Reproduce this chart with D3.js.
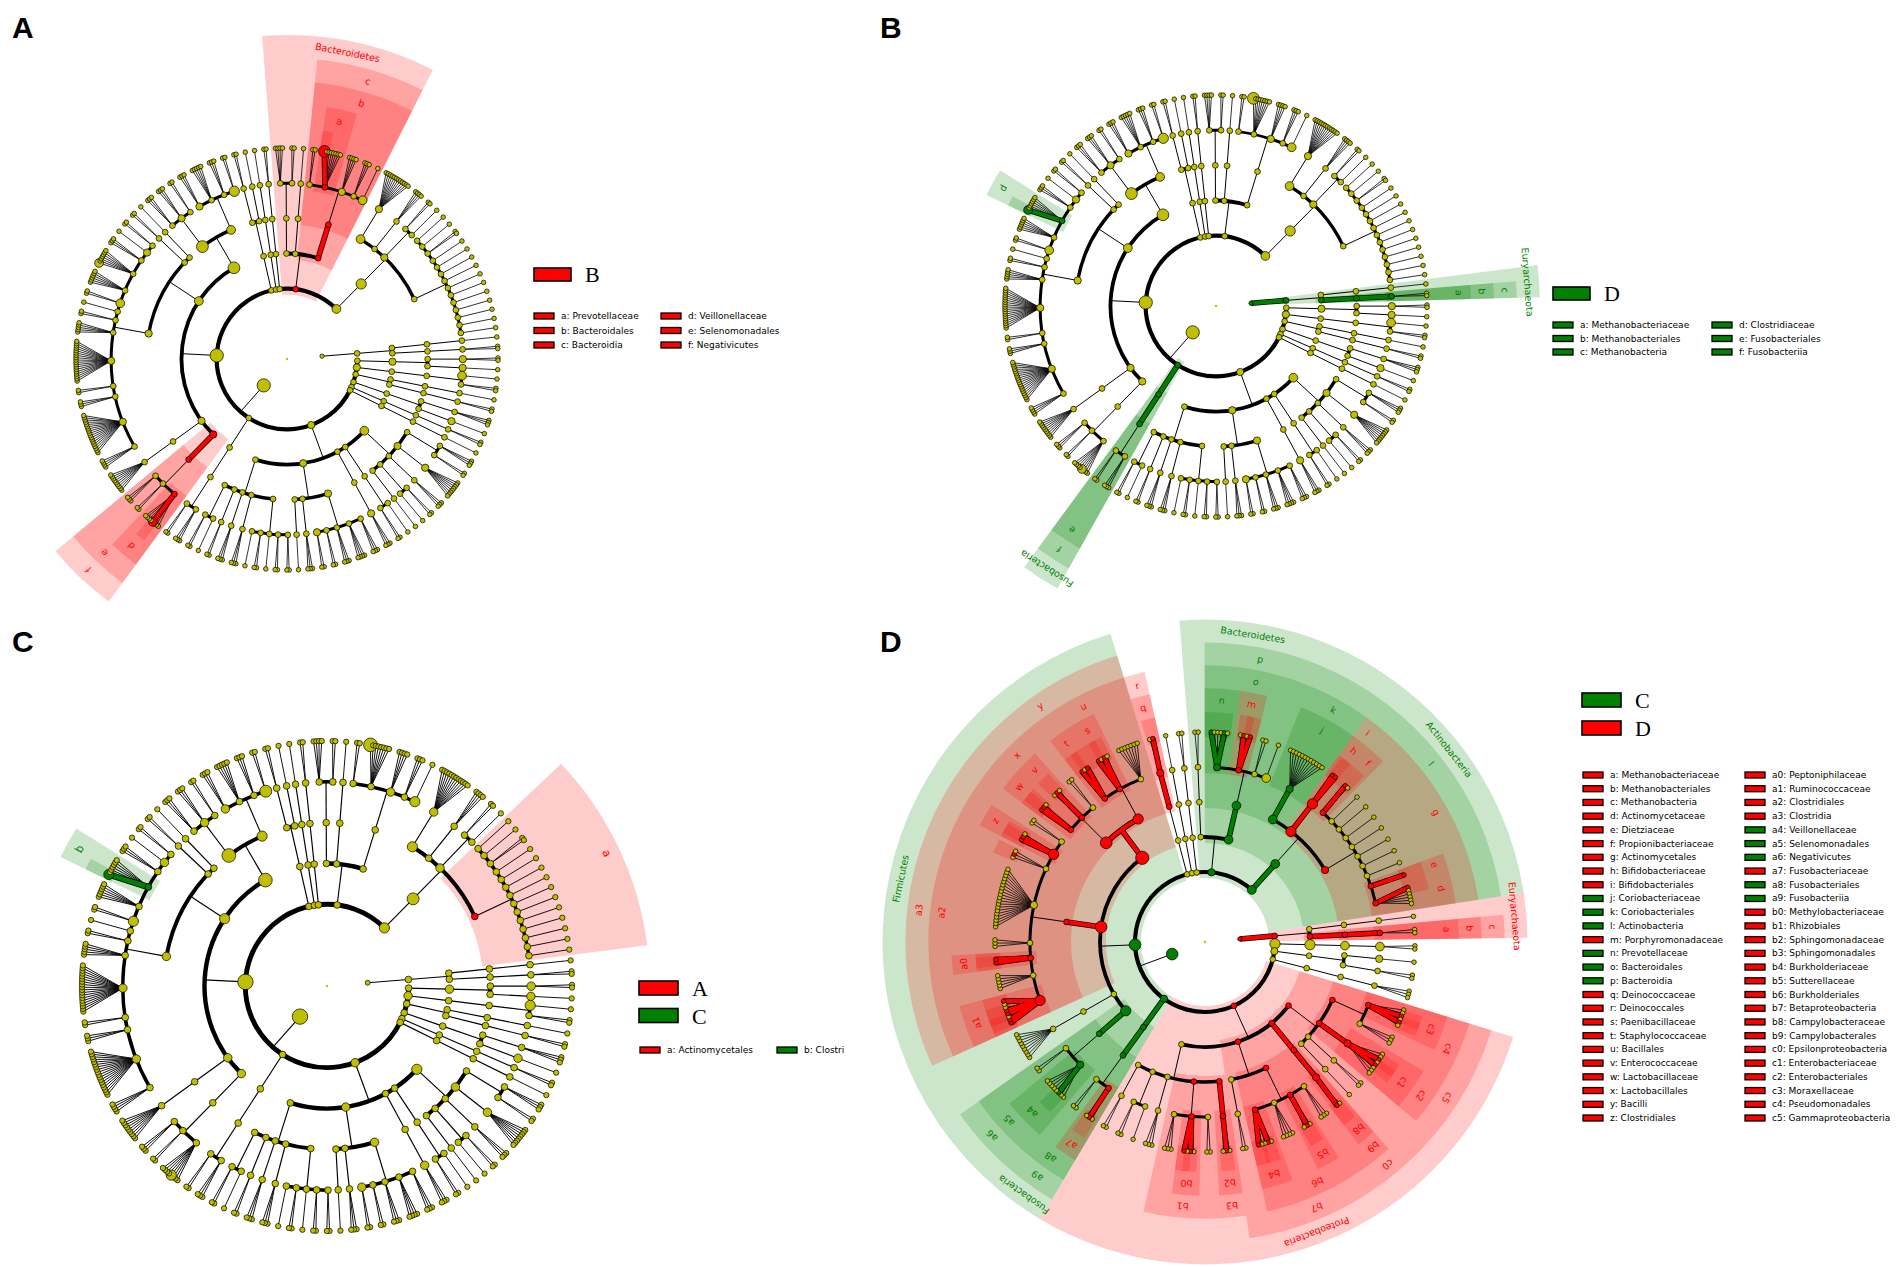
<!DOCTYPE html>
<html>
<head>
<meta charset="utf-8">
<script src="https://cdn.jsdelivr.net/npm/d3@7"></script>
<style>
  body { margin: 0; background: #fff; }
  svg { display: block; }
</style>
</head>
<body>
<svg id="fig" width="1904" height="1267"></svg>
<script>
// Clade strings: "(" ... ")" = clade, "o" = terminal taxon, "x" = significant genus,
// digit after a clade = node size class, {Name} = taxon name used by the highlights.

// ---- tree shared by panels A, B, C ----
const abcArchaea = "( ( (((o))) (((o o){Methanobacteriaceae}){Methanobacteriales}){Methanobacteria} ){Euryarchaeota} )1{Archaea}";
const abcProteobacteria = [
  "( ( (o o o)2 (o o) ) ( (o o o o o o o o)3 )3 ( (o o o) ) ( (o o)2 (o) ) ( (o) ) )4",
  "( ( (o)2 (o o) ) )",
  "( ( (o o o)3 ) )",
  "( ( (o o o) (o o o o)2 (o o o) (o o) (o o)3 )3 ( (o o o) ) ( (o) ) )3",
  "( ( (o o) (o o) (o) (o o)2 (o) ) ( (o o o) ) ( (o o o)2 ) ( (o o) ) ( (o) (o o) ) )2"
];
const abcFirmicutes = [
  "( ( (o o o o4{Veillonella} o o o o){Veillonellaceae} (o o)2 (o o o) ){Selenomonadales} )3{Negativicutes}",
  "( ( (o o o o o o o o o)2 ) )3",
  "( ( (o o o o)2 (o o o o o o o o o o o o o o o o o o)3 (o o o) (o o) (o o o o o o o o o o o o o o o o o o)3 (o o o o o) (o o)2 (o) (o o)4 (o o o o o o)2 (o4{Clostridium} o o o o o o){Clostridiaceae} (o o o) (o)3 (o o) )3 ( (o o)2 ) ( (o) ) )4",
  "( ( (o o o) (o o o)3 (o o) )6 ( (o o o)3 (o o o o o)2 (o o o) (o o)5 )4 )6"
];
const abcPhyla = [
  "( ( ( (o o)3 )2 ( (o)3 ) )3 )2",
  "( ( ( (o)4 (o o) ) ) )3",
  "( ( ( (o)2 ) ) ( ( (o o)2 ) ) )2",
  "( ( ( (o o o) ) ( (o)3 ) ) )",
  "( ( ( (o o) ) ) )",
  "( ( ( (o)2 ) ) )",
  "(" + abcProteobacteria.join(" ") + ")3",
  "( ( ( (o o o)2 (o o) ){Fusobacteriales} ){Fusobacteriia} )2{Fusobacteria}",
  "(" + abcFirmicutes.join(" ") + ")7",
  "( ( ( (o o) ) ( (o) ) ) )2",
  "( ( ( (o) ) ) )",
  "( ( ( (o o)2 ) ) )",
  "( ( ( (o o o o) (o o) ) )2 ( ( (o) ) ) ( ( (o o)2 (o6{Prevotella} o o o o o o o){Prevotellaceae} (o o o o)3 (o o o) (o)4 ){Bacteroidales} ){Bacteroidia} )2{Bacteroidetes}",
  "( ( ( (o o o o o o o o o o o o)3 )4 ( (o o o o)2 ) ( (o o) (o) )3 ( (o)(o)(o o)(o)(o)(o)(o)(o)(o)(o)(o)(o)(o)(o) ){Actinomycetales} )5 )4"
];

// ---- tree of panel D ----
const dArchaea = "( ( (((o))) (((o o){Methanobacteriaceae}){Methanobacteriales}){Methanobacteria} ){Euryarchaeota} )1{Archaea}";
const dProteobacteria = [
  "( ( (o o x o x o){Moraxellaceae} (o o o)2 ){Pseudomonadales} ( (o o x o x o o o)3{Enterobacteriaceae} ){Enterobacteriales} ( (o o) ) ( (o) ) ){Gammaproteobacteria}",
  "( ( (o x)3{Campylobacteraceae} ){Campylobacterales} ){Epsilonproteobacteria}",
  "( ( (o o o) (o x o){Sutterellaceae} (o o o o)2 (o x o o x){Burkholderiaceae} ){Burkholderiales} ( (o o) ) ){Betaproteobacteria}",
  "( ( (o x o){Sphingomonadaceae} ){Sphingomonadales} ( (o o) (o x o x){Methylobacteriaceae} (o o o) ){Rhizobiales} ( (o o o) ) ( (o) (o o) ) ( (o o) ) )"
];
const dFirmicutes = [
  "( ( (o o x o o o o o)3{Veillonellaceae} (o o) ){Selenomonadales} )5{Negativicutes}",
  "( ( (o o o o o o o o o)2 ) )2",
  "( ( (x x o x x o o x)5{Ruminococcaceae} (o o o o o) (x x)2{Peptoniphilaceae} (o o o) (o o o o o o o o o o o o o o o o o o o)3 (o x o) (x x o)5{Clostridiales_f} (o o) ){Clostridiales} )6{Clostridia}",
  "( ( (x x o){Lactobacillaceae} (o x o){Enterococcaceae} (o o) )6{Lactobacillales} ( (x o x){Staphylococcaceae} (x o x o){Paenibacillaceae} (o o o o o o o) )5{Bacillales} )7{Bacilli}"
];
const dPhyla = [
  "( ( ( (o o)4 )4 )5 )5",
  "( ( ( (o)3 ) ( (o o) ) ) )3",
  "( ( ( (o o o) ) ) )2",
  "(" + dProteobacteria.join(" ") + ")2{Proteobacteria}",
  "( ( ( (o x o){Fusobacteriaceae} (o o) ){Fusobacteriales} ){Fusobacteriia} )3{Fusobacteria}",
  "(" + dFirmicutes.join(" ") + ")6{Firmicutes}",
  "( ( ( (o x)3{Deinococcaceae} ){Deinococcales} ) )2",
  "( ( ( (o) ) ) )",
  "( ( ( (o o) ) ) )",
  "( ( ( (o o) ) ) ( ( (x o o o x o)3{Prevotellaceae} (o x o x){Porphyromonadaceae} (o o) (o)4 )4{Bacteroidales} )4{Bacteroidia} )3{Bacteroidetes}",
  "( ( ( (o o o o o o o o o o o o)3{Coriobacteriaceae} )4{Coriobacteriales} ( (x x)5{Bifidobacteriaceae} )5{Bifidobacteriales} ( (x o){Propionibacteriaceae} (o)(o)(o)(o)(o)(o)(o) (x){Dietziaceae} (x o o o o o){Actinomycetaceae} )3{Actinomycetales} )4{Actinobacteria_c} )4{Actinobacteria}"
];

// ---- significant clades per panel: [taxon, group, letter, legend text] ----
const highlightsA = [
  ["Prevotellaceae", "B", "a"], ["Bacteroidales", "B", "b"], ["Bacteroidia", "B", "c"],
  ["Veillonellaceae", "B", "d"], ["Selenomonadales", "B", "e"], ["Negativicutes", "B", "f"],
  ["Bacteroidetes", "B", ""], ["Prevotella", "B", ""], ["Veillonella", "B", ""]
];
const highlightsB = [
  ["Methanobacteriaceae", "D", "a"], ["Methanobacteriales", "D", "b"], ["Methanobacteria", "D", "c"],
  ["Clostridiaceae", "D", "d"], ["Fusobacteriales", "D", "e"], ["Fusobacteriia", "D", "f"],
  ["Euryarchaeota", "D", ""], ["Archaea", "D", ""], ["Fusobacteria", "D", ""], ["Clostridium", "D", ""]
];
const highlightsC = [
  ["Actinomycetales", "A", "a"], ["Clostridiaceae", "C", "b", "Clostri"], ["Clostridium", "C", ""]
];
const highlightsD = [
  ["Methanobacteriaceae", "D", "a"], ["Methanobacteriales", "D", "b"], ["Methanobacteria", "D", "c"],
  ["Actinomycetaceae", "D", "d"], ["Dietziaceae", "D", "e"], ["Propionibacteriaceae", "D", "f"],
  ["Actinomycetales", "D", "g"], ["Bifidobacteriaceae", "D", "h"], ["Bifidobacteriales", "D", "i"],
  ["Coriobacteriaceae", "C", "j"], ["Coriobacteriales", "C", "k"], ["Actinobacteria_c", "C", "l"],
  ["Porphyromonadaceae", "D", "m"], ["Prevotellaceae", "C", "n"], ["Bacteroidales", "C", "o"],
  ["Bacteroidia", "C", "p"], ["Deinococcaceae", "D", "q"], ["Deinococcales", "D", "r"],
  ["Paenibacillaceae", "D", "s"], ["Staphylococcaceae", "D", "t"], ["Bacillales", "D", "u"],
  ["Enterococcaceae", "D", "v"], ["Lactobacillaceae", "D", "w"], ["Lactobacillales", "D", "x"],
  ["Bacilli", "D", "y"], ["Clostridiales_f", "D", "z"],
  ["Peptoniphilaceae", "D", "a0"], ["Ruminococcaceae", "D", "a1"], ["Clostridiales", "D", "a2"],
  ["Clostridia", "D", "a3"], ["Veillonellaceae", "C", "a4"], ["Selenomonadales", "C", "a5"],
  ["Negativicutes", "C", "a6"], ["Fusobacteriaceae", "D", "a7"], ["Fusobacteriales", "C", "a8"],
  ["Fusobacteriia", "C", "a9"], ["Methylobacteriaceae", "D", "b0"], ["Rhizobiales", "D", "b1"],
  ["Sphingomonadaceae", "D", "b2"], ["Sphingomonadales", "D", "b3"], ["Burkholderiaceae", "D", "b4"],
  ["Sutterellaceae", "D", "b5"], ["Burkholderiales", "D", "b6"], ["Betaproteobacteria", "D", "b7"],
  ["Campylobacteraceae", "D", "b8"], ["Campylobacterales", "D", "b9"], ["Epsilonproteobacteria", "D", "c0"],
  ["Enterobacteriaceae", "D", "c1"], ["Enterobacteriales", "D", "c2"], ["Moraxellaceae", "D", "c3"],
  ["Pseudomonadales", "D", "c4"], ["Gammaproteobacteria", "D", "c5"],
  ["Bacteria", "C", ""], ["Bacteroidetes", "C", ""], ["Actinobacteria", "C", ""],
  ["Firmicutes", "C", ""], ["Fusobacteria", "C", ""], ["Proteobacteria", "D", ""],
  ["Archaea", "D", ""], ["Euryarchaeota", "D", ""]
];

const groupsA = [["B", "#ff0000"]];
const groupsB = [["D", "#008000"]];
const groupsC = [["A", "#ff0000"], ["C", "#008000"]];
const groupsD = [["C", "#008000"], ["D", "#ff0000"]];

const abcTree = "(" + abcArchaea + " (" + abcPhyla.join(" ") + ")7{Bacteria})";
const dTree = "(" + dArchaea + " (" + dPhyla.join(" ") + ")6{Bacteria})";

const panels = [
  {letter: "A", lx: 12, ly: 38, tree: abcTree, hl: highlightsA, groups: groupsA,
   cx: 287, cy: 359, R: 211, first: 84,
   lg: {bx: 534, by: 268, bw: 37, bh: 13, gap: 27, iy: 316, idy: 14.5, rows: 3, cols: [534, 661]}},
  {letter: "B", lx: 880, ly: 38, tree: abcTree, hl: highlightsB, groups: groupsB,
   cx: 1216, cy: 306, R: 211, first: 84,
   lg: {bx: 1553, by: 287, bw: 37, bh: 13, gap: 27, iy: 325, idy: 13.5, rows: 3, cols: [1553, 1712]}},
  {letter: "C", lx: 12, ly: 652, tree: abcTree, hl: highlightsC, groups: groupsC,
   cx: 327, cy: 986, R: 245, first: 84,
   lg: {bx: 639, by: 981, bw: 39, bh: 14, gap: 27.5, iy: 1050, idy: 13.7, rows: 1, cols: [640, 777]}},
  {letter: "D", lx: 880, ly: 652, tree: dTree, hl: highlightsD, groups: groupsD,
   cx: 1205, cy: 942, R: 210, first: 83,
   lg: {bx: 1582, by: 693, bw: 39, bh: 14, gap: 28, iy: 775, idy: 13.72, rows: 26, cols: [1583, 1745]}}
];

const NODE = "#bfbf00";

function parseTree(s) {
  let i = 0;
  const ws = () => { while (i < s.length && /\s/.test(s[i])) i++; };
  function node() {
    ws();
    const n = {};
    if (s[i] === "(") {
      i++;
      n.children = [];
      ws();
      while (s[i] !== ")") { n.children.push(node()); ws(); }
      i++;
    } else if (s[i] === "o" || s[i] === "x") {
      if (s[i] === "x") n.mark = true;
      i++;
    } else {
      throw new Error("bad tree at " + i + ": " + s.slice(i, i + 12));
    }
    if (/[0-9]/.test(s[i])) n.size = +s[i++];
    if (s[i] === "{") {
      const j = s.indexOf("}", i);
      n.tag = s.slice(i + 1, j);
      i = j + 1;
    }
    return n;
  }
  return node();
}

const svg = d3.select("#fig");
const toDeg = 180 / Math.PI;

function arcTo(path, rad, t0, t1) {
  path.arc(0, 0, rad, t0 - Math.PI / 2, t1 - Math.PI / 2, t1 < t0);
}

function drawPanel(p) {
  const colorOf = new Map(p.groups);
  const root = d3.hierarchy(parseTree(p.tree));
  const sep = (a, b) => (a.parent === b.parent && a.depth === 6 && b.depth === 6) ? 0.25 : 1;
  d3.cluster().size([360, 1]).separation(sep)(root);

  const leaves = root.leaves();
  let units = sep(leaves[leaves.length - 1], leaves[0]);
  for (let i = 1; i < leaves.length; i++) units += sep(leaves[i - 1], leaves[i]);
  const uRad = (360 / units) / toDeg;
  const start = p.first - leaves[0].x;
  root.each(d => { d.theta = (d.x + start) / toDeg; });

  const hlMap = new Map(p.hl.map(h => [h[0], {group: h[1], key: h[2], label: h[3]}]));
  root.each(d => { if (d.data.tag && hlMap.has(d.data.tag)) d.hl = hlMap.get(d.data.tag); });
  root.each(d => {
    if (d.data.mark) {
      let a = d.parent;
      while (a && !a.hl) a = a.parent;
      if (a) d.hl = {group: a.hl.group, key: ""};
    }
  });

  const k = p.R / 211;
  const r = d3.scaleLinear().domain([0, 6]).range([0, p.R]);
  const g = svg.append("g").attr("transform", `translate(${p.cx},${p.cy})`);

  // shaded sectors of the significant clades
  const arcGen = d3.arc();
  const shaded = root.descendants().filter(d => d.hl && d.depth >= 2).sort((a, b) => a.depth - b.depth);
  const wedges = shaded.map(d => {
    const ls = d.leaves();
    const a0 = d3.min(ls, l => l.theta) - uRad / 2;
    const a1 = d3.max(ls, l => l.theta) + uRad / 2;
    const inner = d.depth === 6 ? p.R - 5 * k : r(d.depth) - 6 * k;
    const outer = d.depth === 6 ? p.R + 20 * k : p.R + k * (44 + (5 - d.depth) * 23);
    return {d, a0, a1, inner, outer, color: colorOf.get(d.hl.group)};
  });
  g.append("g").selectAll("path").data(wedges).join("path")
    .attr("d", w => arcGen({innerRadius: w.inner, outerRadius: w.outer, startAngle: w.a0, endAngle: w.a1}))
    .attr("fill", w => w.color)
    .attr("fill-opacity", 0.2);

  // black branches: arc at the children's level plus a radial stem, fans for genera
  const arcW = {2: 4.2, 3: 3.8, 4: 3.4, 5: 3};
  const eg = g.append("g").attr("fill", "none").attr("stroke", "#000");
  const cg = g.append("g").attr("fill", "none").attr("stroke-linejoin", "round");
  const colored = [];
  root.descendants().filter(d => d.children && d.depth >= 1).forEach(P => {
    const cd = P.depth + 1;
    const [px, py] = d3.pointRadial(P.theta, r(P.depth));
    const same = c => P.hl && c.hl && c.hl.group === P.hl.group;
    if (cd >= 6) {
      P.children.forEach(c => {
        const [x, y] = d3.pointRadial(c.theta, r(c.depth));
        eg.append("line").attr("x1", px).attr("y1", py).attr("x2", x).attr("y2", y)
          .attr("stroke-width", 0.8 * k);
        if (same(c)) {
          const path = d3.path();
          path.moveTo(px, py); path.lineTo(x, y);
          colored.push({d: path.toString(), color: colorOf.get(P.hl.group)});
        }
      });
    } else {
      const t0 = d3.min(P.children, c => c.theta), t1 = d3.max(P.children, c => c.theta);
      if (t1 - t0 > 1e-6) {
        const path = d3.path();
        const [x0, y0] = d3.pointRadial(t0, r(cd));
        path.moveTo(x0, y0);
        arcTo(path, r(cd), t0, t1);
        eg.append("path").attr("d", path.toString()).attr("stroke-width", arcW[cd] * k);
      }
      const [qx, qy] = d3.pointRadial(P.theta, r(cd));
      eg.append("line").attr("x1", px).attr("y1", py).attr("x2", qx).attr("y2", qy)
        .attr("stroke-width", 1 * k);
      if (P.children.every(same)) {
        const path = d3.path();
        path.moveTo(px, py); path.lineTo(qx, qy);
        if (t1 - t0 > 1e-6) {
          const [x0, y0] = d3.pointRadial(t0, r(cd));
          path.moveTo(x0, y0);
          arcTo(path, r(cd), t0, t1);
        }
        colored.push({d: path.toString(), color: colorOf.get(P.hl.group)});
      }
    }
  });
  colored.forEach(c => {
    cg.append("path").attr("d", c.d).attr("stroke", "#000").attr("stroke-width", 5.6 * k);
  });
  colored.forEach(c => {
    cg.append("path").attr("d", c.d).attr("stroke", c.color).attr("stroke-width", 4.2 * k);
  });

  // nodes
  const sizeR = d => d.data.size ? 1.4 + 0.75 * d.data.size : (d.children ? 2.9 : 2.3);
  const nodes = root.descendants().slice().sort((a, b) => b.depth - a.depth);
  g.append("g").selectAll("circle").data(nodes).join("circle")
    .attr("cx", d => d3.pointRadial(d.theta, r(d.depth))[0])
    .attr("cy", d => d3.pointRadial(d.theta, r(d.depth))[1])
    .attr("r", d => d.depth === 0 ? 1.2 : sizeR(d) * k)
    .attr("fill", d => d.hl ? colorOf.get(d.hl.group) : NODE)
    .attr("stroke", d => d.depth === 0 ? "none" : "#000")
    .attr("stroke-width", 0.7);

  // clade labels in the sectors
  const labelled = wedges.filter(w => w.d.depth >= 2 && w.d.depth <= 5);
  g.append("g").selectAll("text").data(labelled).join("text")
    .attr("transform", w => {
      const mid = (w.a0 + w.a1) / 2;
      const [x, y] = d3.pointRadial(mid, w.outer - 11.5 * k);
      return `translate(${x},${y}) rotate(${mid * toDeg})`;
    })
    .attr("text-anchor", "middle")
    .attr("dominant-baseline", "central")
    .attr("font-family", "DejaVu Sans, sans-serif")
    .attr("font-size", 9.5 * k)
    .attr("fill", w => w.color)
    .text(w => w.d.depth === 2 ? w.d.data.tag.replace(/_.*$/, "") : w.d.hl.key);

  // panel letter
  svg.append("text").attr("x", p.lx).attr("y", p.ly)
    .attr("font-family", "Liberation Sans, Arial, sans-serif").attr("font-weight", "bold")
    .attr("font-size", 30).text(p.letter);

  // legend
  const L = p.lg;
  const lg = svg.append("g");
  p.groups.forEach(([name, col], i) => {
    const y = L.by + i * L.gap;
    lg.append("rect").attr("x", L.bx).attr("y", y).attr("width", L.bw).attr("height", L.bh)
      .attr("fill", col).attr("stroke", "#000").attr("stroke-width", 1.6);
    lg.append("text").attr("x", L.bx + L.bw + 14).attr("y", y + L.bh + 1)
      .attr("font-family", "Liberation Serif, Times New Roman, serif").attr("font-size", 22)
      .text(name);
  });
  const items = p.hl.filter(h => h[2] !== "");
  items.forEach((h, i) => {
    const col = Math.floor(i / L.rows), row = i % L.rows;
    const x = L.cols[col], y = L.iy + row * L.idy;
    lg.append("rect").attr("x", x).attr("y", y - 3).attr("width", 20).attr("height", 6)
      .attr("fill", colorOf.get(h[1])).attr("stroke", "#000").attr("stroke-width", 1.3);
    lg.append("text").attr("x", x + 27).attr("y", y)
      .attr("dominant-baseline", "central")
      .attr("font-family", "DejaVu Sans, sans-serif").attr("font-size", 9)
      .text(h[2] + ": " + (h[3] || h[0].replace(/_.*$/, "")));
  });
}

panels.forEach(drawPanel);
</script>
</body>
</html>
